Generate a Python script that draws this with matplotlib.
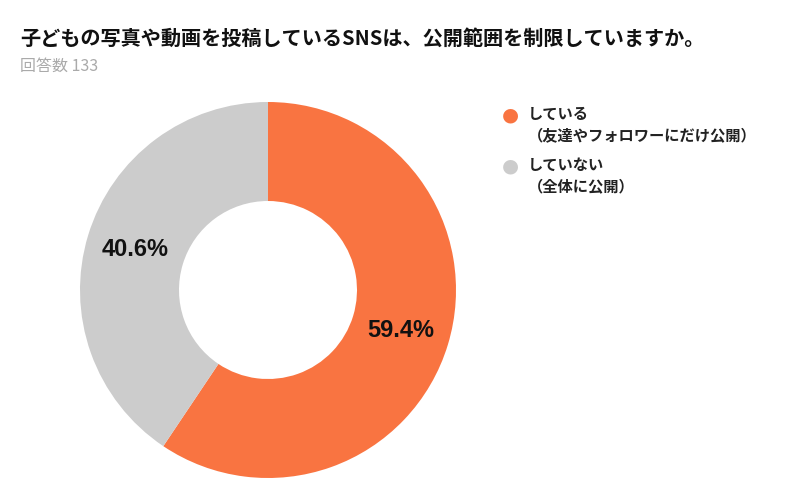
import matplotlib
matplotlib.use("Agg")
import matplotlib.pyplot as plt

plt.rcParams['font.family'] = ['Noto Sans CJK JP', 'DejaVu Sans']

title = "子どもの写真や動画を投稿しているSNSは、公開範囲を制限していますか。"
subtitle = "回答数 133"
categories = ["している\n（友達やフォロワーにだけ公開）", "していない\n（全体に公開）"]
values = [59.4, 40.6]
colors = ["#F97441", "#CCCCCC"]

fig = plt.figure(figsize=(8, 5), dpi=100)
fig.patch.set_facecolor("white")

W, H = 800, 500
cx, cy, R = 268, 290, 188
ax = fig.add_axes([(cx - R) / W, (H - cy - R) / H, 2 * R / W, 2 * R / H])
wedges, texts, autotexts = ax.pie(
    values, colors=colors, startangle=90, counterclock=False,
    radius=1.0, wedgeprops=dict(width=1 - 89 / 188, linewidth=0),
    autopct=lambda p: f"{p:.1f}%", pctdistance=0.74,
    textprops=dict(fontsize=17, fontweight="bold", color="#111111",
                   family=["Liberation Sans", "DejaVu Sans"]))
ax.set_xlim(-1, 1)
ax.set_ylim(-1, 1)
ax.set_aspect("equal")
ax.axis("off")

fig.text(20 / W, 1 - 38 / H, title, fontsize=14.5, fontweight="bold",
         color="#111111", va="center", ha="left")
fig.text(20 / W, 1 - 66 / H, subtitle, fontsize=11.5, color="#AAAAAA",
         va="center", ha="left")

ys = [115, 166]
for lab, col, y in zip(categories, colors, ys):
    fig.text(510 / W, 1 - y / H, "●", fontsize=14, color=col,
             va="center", ha="center", family=["DejaVu Sans"])
    fig.text(528 / W, 1 - (y - 9) / H, lab, fontsize=11, fontweight="bold",
             color="#222222", va="top", ha="left", linespacing=1.4)

fig.savefig("out.png", dpi=100, facecolor="white")
